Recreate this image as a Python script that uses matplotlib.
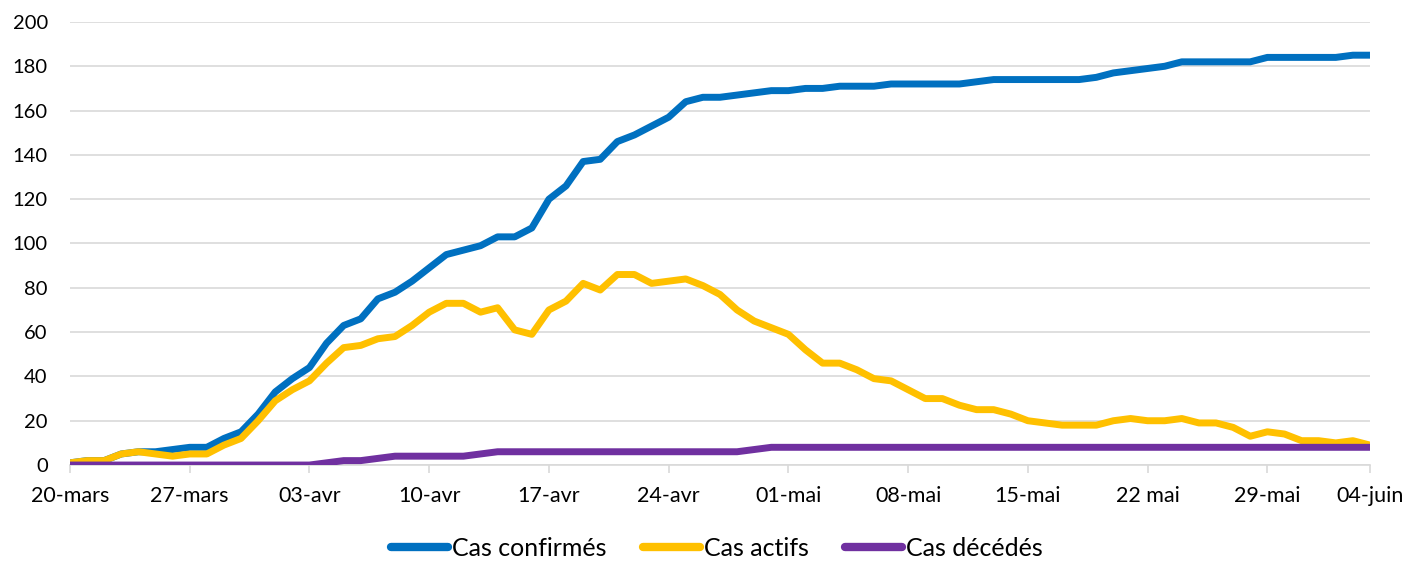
import matplotlib
matplotlib.use("Agg")
import matplotlib.pyplot as plt

plt.rcParams['font.family'] = ['Lato', 'DejaVu Sans']

# daily values, 20 mars -> 04 juin (77 days)
confirmes = [1, 2, 2, 5, 6, 6, 7, 8, 8, 12, 15, 23, 33, 39, 44, 55, 63, 66, 75, 78,
             83, 89, 95, 97, 99, 103, 103, 107, 120, 126, 137, 138, 146, 149, 153, 157, 164, 166, 166, 167,
             168, 169, 169, 170, 170, 171, 171, 171, 172, 172, 172, 172, 172, 173, 174, 174, 174, 174, 174, 174,
             175, 177, 178, 179, 180, 182, 182, 182, 182, 182, 184, 184, 184, 184, 184, 185, 185]
actifs = [1, 2, 2, 5, 6, 5, 4, 5, 5, 9, 12, 20, 29, 34, 38, 46, 53, 54, 57, 58,
          63, 69, 73, 73, 69, 71, 61, 59, 70, 74, 82, 79, 86, 86, 82, 83, 84, 81, 77, 70,
          65, 62, 59, 52, 46, 46, 43, 39, 38, 34, 30, 30, 27, 25, 25, 23, 20, 19, 18, 18,
          18, 20, 21, 20, 20, 21, 19, 19, 17, 13, 15, 14, 11, 11, 10, 11, 9]
deces = [0, 0, 0, 0, 0, 0, 0, 0, 0, 0, 0, 0, 0, 0, 0, 1, 2, 2, 3, 4,
         4, 4, 4, 4, 5, 6, 6, 6, 6, 6, 6, 6, 6, 6, 6, 6, 6, 6, 6, 6,
         7, 8, 8, 8, 8, 8, 8, 8, 8, 8, 8, 8, 8, 8, 8, 8, 8, 8, 8, 8,
         8, 8, 8, 8, 8, 8, 8, 8, 8, 8, 8, 8, 8, 8, 8, 8, 8]

tick_labels = ['20-mars', '27-mars', '03-avr', '10-avr', '17-avr', '24-avr', '01-mai',
               '08-mai', '15-mai', '22 mai', '29-mai', '04-juin']
tick_pos = [0, 7, 14, 21, 28, 35, 42, 49, 56, 63, 70, 76]

x = list(range(len(confirmes)))

fig = plt.figure(figsize=(14.08, 5.63), dpi=100)
ax = fig.add_axes([0.0497, 0.174, 0.9233, 0.787])

lw = 5
ax.plot(x, confirmes, color='#0070C0', lw=lw, label='Cas confirmés', solid_capstyle='round', zorder=3)
ax.plot(x, actifs, color='#FFC000', lw=lw, label='Cas actifs', solid_capstyle='round', zorder=3)
ax.plot(x, deces, color='#7030A0', lw=lw, label='Cas décédés', solid_capstyle='round', zorder=3)

ax.set_xlim(0, 76)
ax.set_ylim(0, 200)
ax.set_yticks(range(0, 201, 20))
ax.grid(axis='y', color='#d9d9d9', lw=1.2)
ax.set_axisbelow(True)

ax.set_xticks(tick_pos)
ax.set_xticklabels(tick_labels)
ax.tick_params(axis='x', length=6, width=1.2, color='#d9d9d9', labelsize=15.5, pad=9)
ax.tick_params(axis='y', length=0, labelsize=14.5, pad=16)

for s in ['top', 'right', 'left']:
    ax.spines[s].set_visible(False)
ax.spines['bottom'].set_color('#d9d9d9')
ax.spines['bottom'].set_linewidth(1.2)

leg = ax.legend(loc='lower center', bbox_to_anchor=(0.4975, -0.265), ncol=3, frameon=False,
                fontsize=18, handlelength=2.3, handletextpad=0.15, columnspacing=1.45)
for h in leg.get_lines():
    h.set_linewidth(6)
    h.set_solid_capstyle('round')

fig.savefig('out.png', dpi=100)
